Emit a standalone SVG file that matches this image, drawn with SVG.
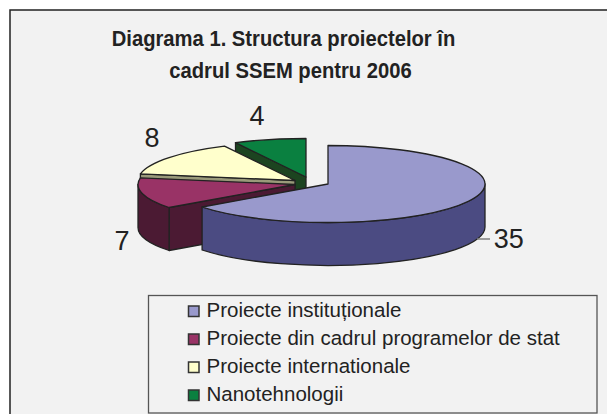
<svg xmlns="http://www.w3.org/2000/svg" width="607" height="414" viewBox="0 0 607 414">
<defs>
<style>
.edge{stroke:#222;stroke-width:1.3;stroke-linejoin:round}
.title{font-family:"Liberation Sans",Arial,sans-serif;font-weight:bold;font-size:21.5px;fill:#222;text-anchor:middle}
.lbl{font-family:"Liberation Sans",Arial,sans-serif;font-size:27px;fill:#222}
.leg{font-family:"Liberation Sans",Arial,sans-serif;font-size:20.5px;fill:#222}
.sw{stroke:#333;stroke-width:1.5}
</style>
</defs>
<rect x="0" y="0" width="607" height="414" fill="#ffffff"/>
<rect id="frame" x="10" y="10" width="620" height="420" fill="#f2f2f2" stroke="#222" stroke-width="1.5"/>
<g id="title">
<text class="title" transform="translate(283.5,45.7) scale(0.94,1)">Diagrama 1. Structura proiectelor în</text>
<text class="title" transform="translate(290.5,78.3) scale(0.94,1)">cadrul SSEM pentru 2006</text>
</g>
<g id="slice-nanotehnologii">
<path class="edge" fill="#1c4420" d="M306,177 L235.5,142.6 L235.5,185.6 L306,220 Z"/>
<path class="edge" fill="#0a8040" d="M306,177 L306,138.5 A157,38.5 0 0 0 235.5,142.6 Z"/>
</g>
<g id="slice-internationale">
<path class="edge" fill="#9a9a7a" d="M295,180.5 L140.4,173.8 L140.4,216.8 L295,223.5 Z"/>
<path class="edge" fill="#ffffcc" d="M295,180.5 L224.5,146.1 A157,38.5 0 0 0 140.4,173.8 Z"/>
</g>
<g id="slice-programe-stat">
<path class="edge" fill="#4b1a33" d="M295,184.5 L169.1,207.5 L169.1,250.5 L295,227.5 Z"/>
<path class="edge" fill="#4b1a33" d="M138,184.5 A157,38.5 0 0 0 169.1,207.5 L169.1,250.5 A157,38.5 0 0 1 138,227.5 Z"/>
<path class="edge" fill="#993366" d="M295,184.5 L140.4,177.8 A157,38.5 0 0 0 169.1,207.5 Z"/>
</g>
<g id="slice-institutionale">
<path class="edge" fill="#4b4b82" d="M202.1,207 A157,38.5 0 0 0 485,184 L485,227 A157,38.5 0 0 1 202.1,250 Z"/>
<path class="edge" fill="#9999cc" d="M328,184 L328,145.5 A157,38.5 0 1 1 202.1,207 Z"/>
</g>
<g id="connectors">
<line x1="477" y1="239" x2="490" y2="239" stroke="#808080" stroke-width="1.5"/>
</g>
<g id="labels">
<text class="lbl" x="249.5" y="125">4</text>
<text class="lbl" x="144.5" y="146.7">8</text>
<text class="lbl" x="114.5" y="249.5">7</text>
<text class="lbl" x="493.8" y="248.3">35</text>
</g>
<g id="legend">
<rect x="148.5" y="295.5" width="448.5" height="117.5" fill="#f2f2f2" stroke="#555" stroke-width="1.3"/>
<rect class="sw" x="188.5" y="306" width="10.5" height="10.5" fill="#9999cc"/>
<rect class="sw" x="188.5" y="334" width="10.5" height="10.5" fill="#993366"/>
<rect class="sw" x="188.5" y="362" width="10.5" height="10.5" fill="#ffffcc"/>
<rect class="sw" x="188.5" y="390" width="10.5" height="10.5" fill="#0a8040"/>
<text class="leg" x="206.5" y="316.5">Proiecte instituționale</text>
<text class="leg" x="206.5" y="344.5">Proiecte din cadrul programelor de stat</text>
<text class="leg" x="206.5" y="372.5">Proiecte internationale</text>
<text class="leg" x="206.5" y="400.5">Nanotehnologii</text>
</g>
</svg>
